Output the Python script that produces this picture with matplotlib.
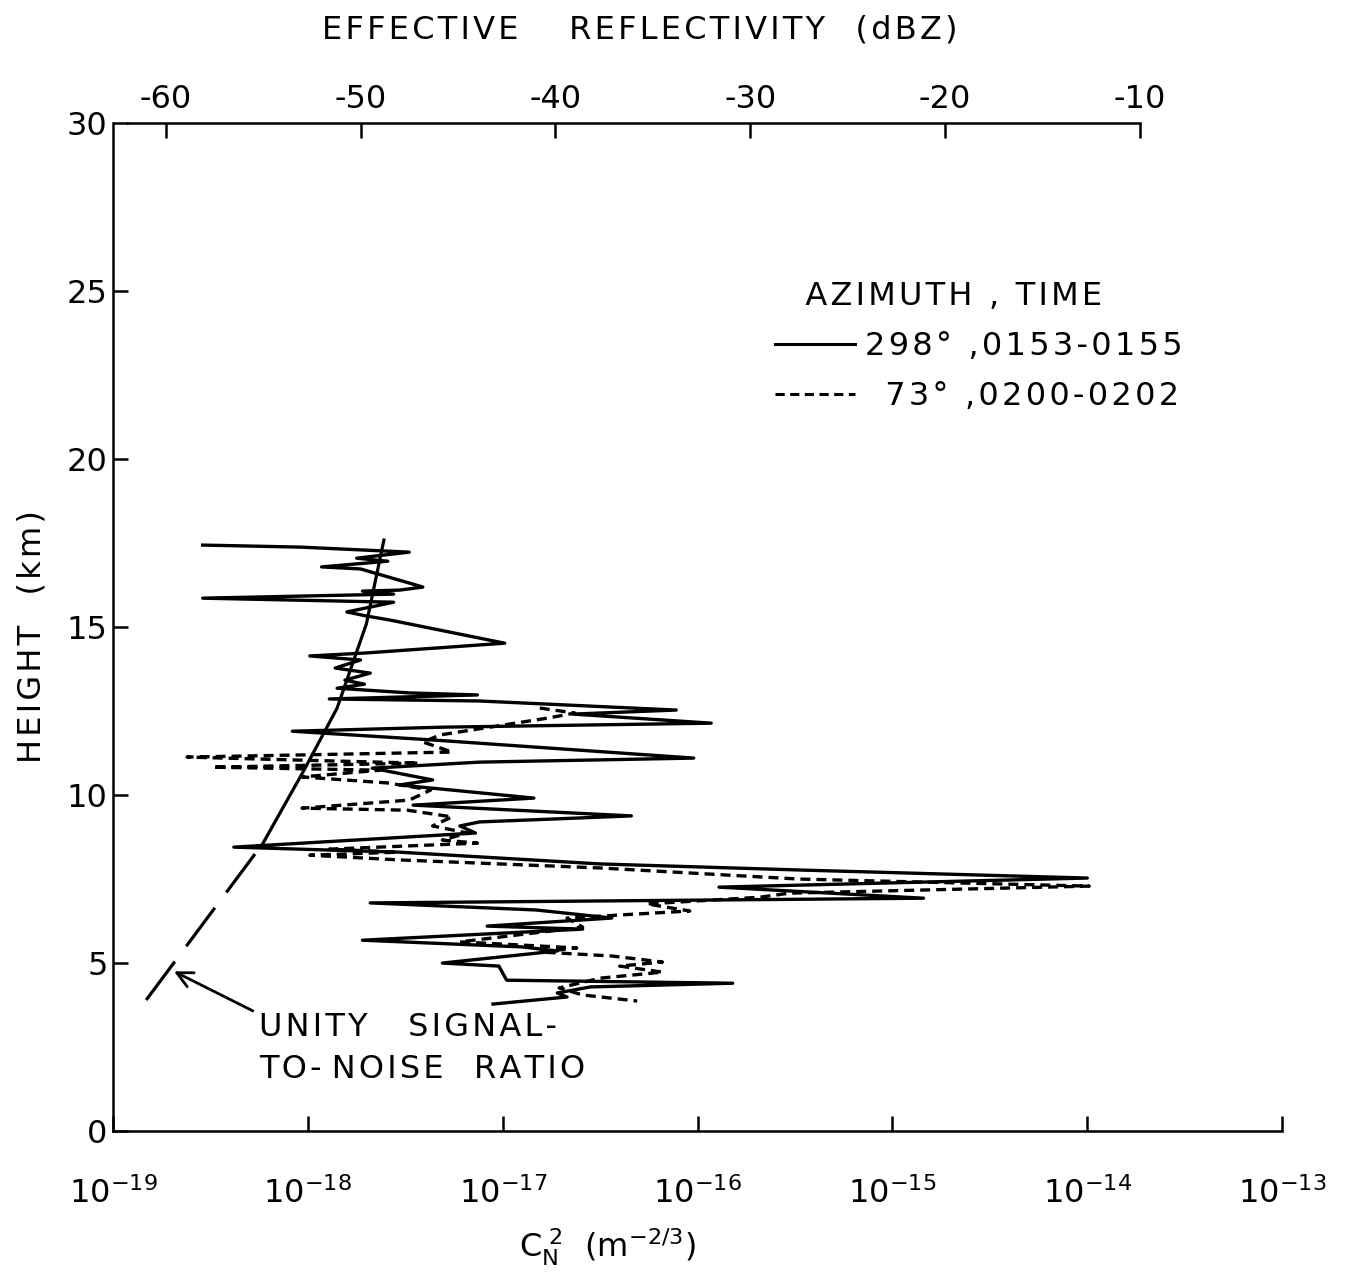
import matplotlib
matplotlib.use("Agg")
import matplotlib.pyplot as plt
import numpy as np

# --- data ---------------------------------------------------------------
# solid profile: azimuth 298 deg, 0153-0155  (height km, log10 Cn2)
solid_km = [17.44, 17.38, 17.23, 17.05, 16.96, 16.79, 16.73, 16.31, 16.19, 16.10,
            16.07, 15.98, 15.86, 15.74, 15.45, 15.33, 15.21, 15.00, 14.52, 14.23,
            14.14, 14.02, 13.78, 13.63, 13.42, 13.30, 13.18, 13.04, 12.98, 12.86,
            12.80, 12.53, 12.41, 12.14, 12.02, 11.90, 11.64, 11.10, 10.98, 10.80,
            10.45, 10.30, 9.91, 9.70, 9.38, 9.20, 9.08, 8.87, 8.45, 8.30,
            7.95, 7.77, 7.53, 7.26, 6.93, 6.79, 6.58, 6.34, 6.10, 6.01,
            5.68, 5.48, 5.36, 5.00, 4.91, 4.49, 4.40, 4.29, 4.11, 3.99, 3.78]
solid_exp = [-18.54, -18.04, -17.48, -17.75, -17.59, -17.93, -17.73, -17.48, -17.41, -17.53,
             -17.72, -17.56, -18.54, -17.56, -17.80, -17.70, -17.58, -17.40, -16.99, -17.70,
             -17.99, -17.73, -17.86, -17.68, -17.81, -17.71, -17.85, -17.48, -17.13, -17.89,
             -17.12, -16.11, -16.64, -15.93, -17.31, -18.08, -17.36, -16.02, -17.12, -17.67,
             -17.36, -17.53, -16.84, -17.46, -16.34, -17.12, -17.22, -17.14, -18.38, -17.53,
             -16.50, -15.48, -14.00, -15.89, -14.84, -17.68, -16.83, -16.44, -17.08, -16.59,
             -17.72, -16.90, -16.72, -17.31, -17.02, -16.98, -15.82, -16.55, -16.72, -16.67, -17.05]

# dashed profile: azimuth 73 deg, 0200-0202
dash_km = [12.59, 12.44, 12.29, 11.79, 11.58, 11.28, 11.13, 11.04, 10.95, 10.83,
           10.74, 10.54, 10.36, 10.15, 9.85, 9.61, 9.55, 9.35, 9.08, 8.87,
           8.66, 8.57, 8.39, 8.30, 8.21, 8.07, 7.83, 7.50, 7.29, 7.08,
           6.96, 6.76, 6.55, 6.34, 6.07, 5.63, 5.45, 5.33, 5.21, 5.03,
           4.91, 4.73, 4.55, 4.26, 4.05, 3.87]
dash_exp = [-16.81, -16.63, -16.77, -17.32, -17.41, -17.26, -18.62, -18.04, -17.43, -18.49,
            -17.63, -18.03, -17.59, -17.37, -17.48, -18.03, -17.49, -17.26, -17.36, -17.18,
            -17.31, -17.13, -17.89, -17.54, -17.99, -17.53, -16.50, -15.48, -13.99, -15.53,
            -15.68, -16.26, -16.04, -16.67, -16.59, -17.22, -16.62, -16.81, -16.44, -16.18,
            -16.40, -16.18, -16.50, -16.71, -16.59, -16.31]

# unity signal-to-noise curve
snr_km = [3.90, 8.57, 10.74, 12.59, 15.09, 17.59]
snr_exp = [-18.83, -18.23, -18.02, -17.85, -17.70, -17.61]

ZE_OFFSET = 127.3          # dBZ = 10 log10(Cn2) + offset
dbz_ticks = [-60, -50, -40, -30, -20, -10]
cn2_ticks = [1e-19, 1e-18, 1e-17, 1e-16, 1e-15, 1e-14, 1e-13]
cn2_labels = [r"$10^{-19}$", r"$10^{-18}$", r"$10^{-17}$", r"$10^{-16}$",
              r"$10^{-15}$", r"$10^{-14}$", r"$10^{-13}$"]
km_ticks = [0, 5, 10, 15, 20, 25, 30]


def spaced(s):
    # hand lettering on the original is widely spaced
    return "\u200a".join(s)


plt.rcParams["font.family"] = ["DejaVu Sans"]
plt.rcParams["axes.unicode_minus"] = False
plt.rcParams["mathtext.default"] = "regular"

FS = 23
lw_prof = 2.4

fig = plt.figure(figsize=(13.54, 12.74), dpi=100)
ax = fig.add_axes([0.0835, 0.1122, 0.8634, 0.7912])

ax.plot(10.0 ** np.array(solid_exp), solid_km, color="black", lw=lw_prof)
ax.plot(10.0 ** np.array(dash_exp), dash_km, color="black", lw=lw_prof,
        dashes=(3.0, 1.8))

snr_x = 10.0 ** np.array(snr_exp)
ax.plot(snr_x[:2], snr_km[:2], color="black", lw=2.3, dashes=(15, 6))
ax.plot(snr_x[1:], snr_km[1:], color="black", lw=2.3)

ax.set_xscale("log")
ax.set_xlim(1e-19, 1e-13)
ax.set_ylim(0, 30)
ax.set_xticks(cn2_ticks)
ax.set_xticklabels(cn2_labels)
ax.xaxis.set_minor_locator(matplotlib.ticker.NullLocator())
ax.set_yticks(km_ticks)
ax.tick_params(axis="x", direction="in", length=11, width=1.8, labelsize=FS, pad=33)
ax.tick_params(axis="y", direction="in", length=11, width=1.8, labelsize=FS, pad=4)
ax.spines["right"].set_visible(False)
ax.spines["top"].set_visible(False)
for s in ("left", "bottom"):
    ax.spines[s].set_linewidth(1.8)

# top reflectivity axis
ax2 = ax.twiny()
lo, hi = ax.get_xlim()
ax2.set_xlim(10 * np.log10(lo) + ZE_OFFSET, 10 * np.log10(hi) + ZE_OFFSET)
ax2.set_xticks(dbz_ticks)
ax2.tick_params(axis="x", direction="in", length=11, width=1.8, labelsize=FS, pad=6)
for s in ("left", "right", "bottom"):
    ax2.spines[s].set_visible(False)
ax2.spines["top"].set_linewidth(1.8)
ax2.spines["top"].set_bounds(-62.0, -10)

# legend
h1, = ax.plot([], [], color="black", lw=2.2)
h2, = ax.plot([], [], color="black", lw=2.2, dashes=(3.0, 1.8))
leg = ax.legend([h1, h2], [spaced("298° ,0153-0155"), "  " + spaced("73° ,0200-0202")],
                title="   " + spaced("AZIMUTH , TIME"), loc="upper left",
                bbox_to_anchor=(0.542, 0.872), frameon=False, fontsize=FS,
                title_fontsize=FS, handlelength=2.5, handletextpad=0.3,
                labelspacing=0.6, alignment="left")

# unity SNR annotation
ax.annotate("", xy=(10 ** -18.70, 4.79), xytext=(10 ** -18.27, 3.54),
            arrowprops=dict(arrowstyle="->", lw=2.0, color="black",
                            mutation_scale=28))
ax.text(10 ** -18.25, 2.45, spaced("UNITY") + "    " + spaced("SIGNAL-") + "\n"
        + spaced("TO-") + " " + spaced("NOISE") + "   " + spaced("RATIO"),
        fontsize=FS, ha="left", va="center", linespacing=1.45)

fig.text(640 / 1354, 1 - 30 / 1274,
         spaced("EFFECTIVE") + "     " + spaced("REFLECTIVITY") + "   " + spaced("(dBZ)"),
         fontsize=FS, ha="center", va="center")
fig.text(607 / 1354, 1 - 1247 / 1274, r"$C_N^{\ 2}$  $(m^{-2/3})$",
         fontsize=FS, ha="center", va="center")
fig.text(32 / 1354, 1 - 637 / 1274, spaced("HEIGHT") + "   " + spaced("(km)"),
         fontsize=FS, ha="center", va="center", rotation=90)

fig.savefig("out.png", dpi=100)
